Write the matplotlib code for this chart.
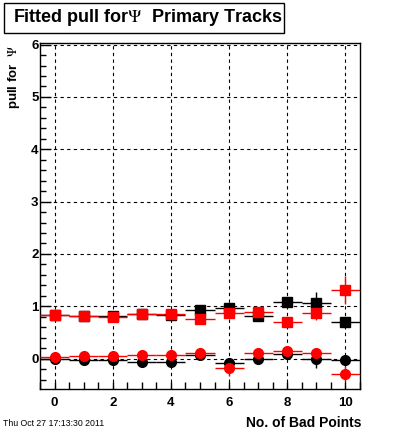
import matplotlib.pyplot as plt
from matplotlib.patches import Rectangle
from matplotlib.ticker import MultipleLocator

plt.rcParams['font.family'] = ['Liberation Sans', 'DejaVu Sans']
plt.rcParams['mathtext.fontset'] = 'stix'

# Nombre de points mauvais
bad_points = [0, 1, 2, 3, 4, 5, 6, 7, 8, 9, 10]

# Largeur du pull (carres)
sigma_black = [0.83, 0.81, 0.82, 0.86, 0.83, 0.92, 0.96, 0.81, 1.09, 1.07, 0.70]
sigma_black_err = [0.02, 0.02, 0.02, 0.02, 0.03, 0.03, 0.04, 0.05, 0.07, 0.20, 0.10]
sigma_red = [0.83, 0.81, 0.79, 0.855, 0.86, 0.75, 0.87, 0.89, 0.70, 0.88, 1.31]
sigma_red_err = [0.02, 0.02, 0.02, 0.02, 0.03, 0.03, 0.04, 0.05, 0.07, 0.15, 0.26]

# Moyenne du pull (cercles)
mean_black = [0.0, -0.03, -0.02, -0.07, -0.06, 0.075, -0.08, -0.01, 0.09, 0.0, -0.02]
mean_black_err = [0.02, 0.02, 0.02, 0.02, 0.03, 0.03, 0.04, 0.05, 0.07, 0.17, 0.08]
mean_red = [0.03, 0.05, 0.05, 0.06, 0.075, 0.10, -0.18, 0.11, 0.14, 0.11, -0.29]
mean_red_err = [0.02, 0.02, 0.02, 0.02, 0.03, 0.03, 0.15, 0.05, 0.07, 0.10, 0.14]

xerr = [0.5] * len(bad_points)

fig = plt.figure(figsize=(4.0, 4.33), dpi=100)
ax = fig.add_axes([0.1, 1 - 389 / 433, 0.8, (389 - 43) / 433])

for y, e, col, mk in [
    (sigma_black, sigma_black_err, 'black', 's'),
    (mean_black, mean_black_err, 'black', 'o'),
    (sigma_red, sigma_red_err, 'red', 's'),
    (mean_red, mean_red_err, 'red', 'o'),
]:
    ax.errorbar(bad_points, y, xerr=xerr, yerr=e, fmt=mk, color=col,
                ms=7, mec=col, mfc=col, elinewidth=1, capsize=0, zorder=3)

ax.set_xlim(-0.5, 10.5)
ax.set_ylim(-0.58, 6.03)
ax.xaxis.set_major_locator(MultipleLocator(2))
ax.xaxis.set_minor_locator(MultipleLocator(0.5))
ax.yaxis.set_major_locator(MultipleLocator(1))
ax.yaxis.set_minor_locator(MultipleLocator(0.2))
ax.grid(True, which='major', color='black', linestyle=(0, (3, 3)), linewidth=0.8)
ax.tick_params(which='both', direction='in', top=False, right=False, width=1)
ax.tick_params(axis='y', which='major', length=8, pad=1, labelsize=9.5)
ax.tick_params(axis='y', which='minor', length=4.5)
ax.tick_params(axis='x', which='both', length=5, pad=6, labelsize=9.5)
for lab in ax.get_xticklabels() + ax.get_yticklabels():
    lab.set_fontweight('bold')
for s in ax.spines.values():
    s.set_linewidth(1)

# Titres des axes
fig.text(362 / 400, 1 - 423 / 433, 'No. of Bad Points', ha='right', va='center',
         fontsize=10, fontweight='bold')
fig.text(14 / 400, 1 - 77 / 433, r'pull for  $\Psi$', rotation=90, ha='center',
         va='center', fontsize=9.5, fontweight='bold')

# Boite du titre
fig.patches.append(Rectangle((4 / 400, 1 - 33 / 433), 280 / 400, 30 / 433,
                             transform=fig.transFigure, facecolor='white',
                             edgecolor='black', linewidth=1))
fig.text(148 / 400, 1 - 18 / 433, r'Fitted pull for$\Psi$  Primary Tracks',
         ha='center', va='center', fontsize=13, fontweight='bold')

fig.text(3 / 400, 1 - 424 / 433, 'Thu Oct 27 17:13:30 2011', ha='left',
         va='center', fontsize=6.3)

fig.savefig('out.png', dpi=100)
